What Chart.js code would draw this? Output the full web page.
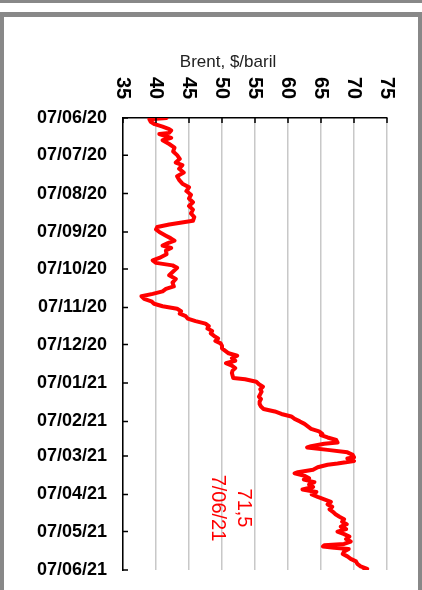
<!DOCTYPE html>
<html>
<head>
<meta charset="utf-8">
<script src="https://cdn.jsdelivr.net/npm/chart.js@4"></script>
<style>
  body { margin: 0; background: #fff; }
  .bar { height: 3px; background: #888; }
  .gap { height: 9px; }
  .frame { width: 414px; height: 573px; border-top: 5px solid #888; border-left: 4px solid #888; border-right: 4px solid #888; }
</style>
</head>
<body>
<div class="bar"></div>
<div class="gap"></div>
<div class="frame"><canvas id="brentChart" width="414" height="573"></canvas></div>
<script>
// Brent, $/baril — jours depuis le 07/06/20
const days = [
  0, 1, 3, 5, 7, 9, 10, 12, 13, 16,
  18, 21, 24, 27, 30, 33, 36, 38, 41, 44,
  47, 50, 53, 56, 59, 62, 65, 68, 71, 74,
  77, 80, 83, 86, 88, 90, 92, 95, 97, 99,
  101, 103, 105, 107, 110, 113, 115, 117, 119, 121,
  124, 127, 130, 133, 136, 138, 140, 142, 144, 146,
  148, 150, 152, 154, 156, 158, 160, 162, 164, 166,
  168, 170, 172, 174, 176, 178, 180, 182, 184, 186,
  188, 190, 192, 194, 196, 198, 200, 202, 204, 206,
  208, 210, 211, 213, 215, 217, 219, 221, 223, 225,
  227, 229, 231, 233, 235, 237, 239, 241, 243, 245,
  247, 249, 251, 253, 255, 256, 258, 260, 262, 263,
  265, 266, 268, 270, 272, 274, 275, 277, 279, 280,
  282, 284, 286, 287, 289, 291, 292, 294, 296, 298,
  300, 302, 304, 306, 308, 310, 312, 314, 316, 318,
  320, 322, 324, 326, 328, 330, 332, 334, 336, 338,
  340, 342, 344, 345, 346, 347, 348, 350, 352, 354,
  356, 358, 360, 362, 364, 365
];
const brent = [
  41.6, 39.0, 39.2, 39.8, 41.0, 42.0, 42.3, 42.0, 40.5, 42.3,
  41.0, 42.0, 42.8, 42.6, 43.2, 43.6, 43.0, 44.0, 43.5, 44.2,
  43.2, 43.5, 44.0, 45.0, 44.6, 45.3, 45.0, 45.6, 45.0, 45.6,
  45.3, 45.8, 45.6, 42.0, 40.2, 40.0, 40.5, 41.5, 42.2, 42.8,
  41.8, 41.0, 42.3, 41.5, 41.6, 40.5, 39.5, 40.0, 42.5, 43.2,
  42.6, 42.0, 43.0, 42.5, 42.7, 41.5, 41.0, 39.5, 37.8, 38.2,
  39.3, 39.7, 41.0, 43.2, 43.8, 43.6, 44.5, 44.8, 46.0, 47.5,
  48.0, 47.8, 48.5, 48.3, 48.8, 49.4, 49.0, 49.8, 50.0, 50.0,
  50.5, 51.0, 52.3, 51.5, 52.0, 50.6, 51.5, 52.0, 51.6, 51.5,
  51.6, 51.7, 53.5, 55.2, 55.6, 56.2, 55.8, 56.0, 55.8, 55.6,
  55.9, 55.7, 55.7, 55.9, 56.3, 58.0, 59.0, 60.5, 61.0, 61.8,
  62.5, 63.0, 63.5, 64.7, 65.2, 65.0, 66.0, 67.3, 67.5, 65.5,
  63.5, 62.9, 66.0, 69.0, 69.8, 70.0, 69.0, 70.0, 67.5, 66.0,
  64.5, 63.8, 61.5, 61.0, 62.5, 63.2, 62.4, 64.0, 63.2, 63.8,
  62.2, 64.3, 63.6, 64.5, 65.5, 66.5, 66.0, 66.7, 66.3, 66.8,
  67.2, 67.8, 68.5, 68.2, 68.9, 68.0, 68.8, 67.5, 68.5, 69.3,
  68.8, 69.5, 68.5, 65.5, 65.3, 67.0, 69.2, 68.5, 68.3, 69.0,
  69.5, 70.3, 70.5, 71.0, 72.0, 71.5
];
// graduations de l'axe des dates
const tickDays = [0, 30, 61, 92, 122, 153, 183, 214, 245, 273, 304, 334, 365];
const dateLabels = ['07/06/20', '07/07/20', '07/08/20', '07/09/20', '07/10/20', '07/11/20', '07/12/20',
  '07/01/21', '07/02/21', '07/03/21', '07/04/21', '07/05/21', '07/06/21'];
const priceMin = 35, priceMax = 75, priceStep = 5;
const title = 'Brent, $/baril';

const FONT = '"Liberation Sans", Arial, sans-serif';

// textes, graduations vers l'intérieur et étiquette de la dernière valeur
const decor = {
  id: 'decor',
  afterDraw(chart) {
    const { ctx, chartArea: a, scales: { x, y } } = chart;
    ctx.save();
    ctx.strokeStyle = '#000';
    ctx.lineWidth = 1.5;
    ctx.beginPath();
    y.ticks.forEach(t => {
      const py = y.getPixelForValue(t.value);
      ctx.moveTo(a.left, py); ctx.lineTo(a.left + 5, py);
    });
    x.ticks.forEach(t => {
      const px = x.getPixelForValue(t.value);
      ctx.moveTo(px, a.top); ctx.lineTo(px, a.top + 5);
    });
    ctx.stroke();

    ctx.fillStyle = '#000';
    ctx.font = 'bold 18px ' + FONT;
    ctx.textAlign = 'right';
    ctx.textBaseline = 'middle';
    y.ticks.forEach((t, i) => ctx.fillText(dateLabels[i], a.left - 16, y.getPixelForValue(t.value)));

    // étiquettes des prix, tournées de 90°
    ctx.font = 'bold 20px ' + FONT;
    ctx.textAlign = 'center';
    x.ticks.forEach(t => {
      ctx.save();
      ctx.translate(x.getPixelForValue(t.value), a.top - 30);
      ctx.rotate(Math.PI / 2);
      ctx.fillText(String(t.value), 0, 0);
      ctx.restore();
    });

    ctx.fillStyle = '#222';
    ctx.font = '17px ' + FONT;
    ctx.fillText(title, a.left + 105, a.top - 56);

    // dernière valeur
    const last = brent.length - 1;
    ctx.fillStyle = '#ff0000';
    ctx.font = '20px ' + FONT;
    ctx.translate(a.left + 108, a.top + 390);
    ctx.rotate(Math.PI / 2);
    ctx.fillText(String(brent[last]).replace('.', ','), 0, -13);
    ctx.fillText(dateLabels[dateLabels.length - 1].replace(/^0/, ''), 0, 13);
    ctx.restore();
  }
};

const ctx = document.getElementById('brentChart').getContext('2d');
new Chart(ctx, {
  type: 'line',
  data: {
    datasets: [{
      label: title,
      data: days.map((d, i) => ({ x: brent[i], y: d })),
      borderColor: '#ff0000',
      borderWidth: 4,
      borderJoinStyle: 'round',
      borderCapStyle: 'round',
      pointRadius: 0,
      tension: 0,
      fill: false
    }]
  },
  options: {
    indexAxis: 'y',
    responsive: false,
    animation: false,
    layout: { padding: { left: 119, top: 101, right: 31, bottom: 20 } },
    plugins: { legend: { display: false }, tooltip: { enabled: false } },
    scales: {
      x: {
        type: 'linear',
        position: 'top',
        min: priceMin,
        max: priceMax,
        ticks: { display: false, stepSize: priceStep },
        grid: { color: '#c8c8c8', lineWidth: 1.5, drawTicks: false },
        border: { color: '#000', width: 1.5 }
      },
      y: {
        type: 'linear',
        reverse: true,
        min: 0,
        max: 365,
        afterBuildTicks: s => { s.ticks = tickDays.map(v => ({ value: v })); },
        ticks: { display: false },
        grid: { display: false, drawTicks: false },
        border: { display: true, color: '#000', width: 1.5 }
      }
    }
  },
  plugins: [decor]
});
</script>
</body>
</html>
